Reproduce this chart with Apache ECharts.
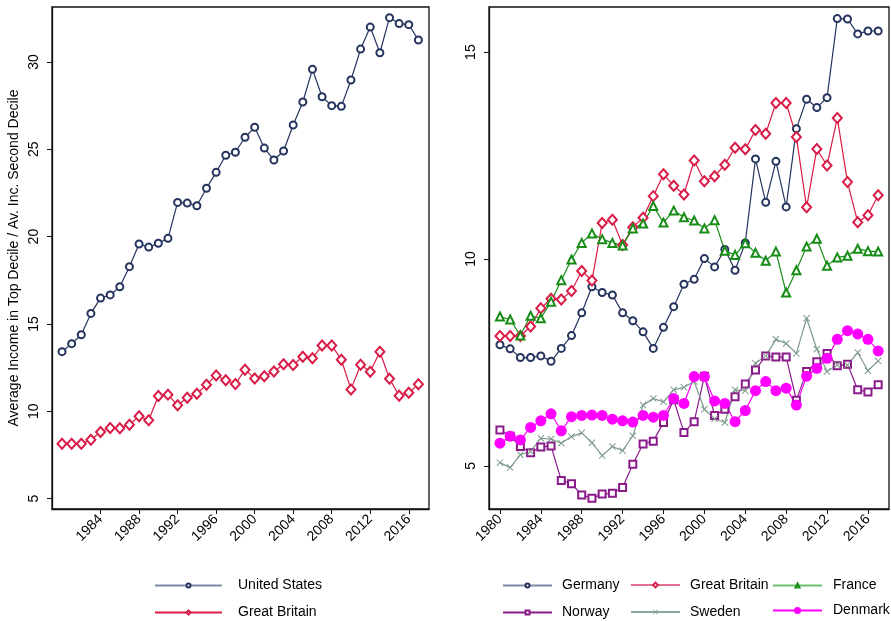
<!DOCTYPE html>
<html>
<head>
<meta charset="utf-8">
<script src="https://cdn.jsdelivr.net/npm/echarts@6/dist/echarts.min.js"></script>
<style>
  html, body { margin: 0; padding: 0; background: #fff; }
  #chart { width: 891px; height: 621px; }
</style>
</head>
<body>
<div id="chart"></div>
<script>
// Ratio of average income in the top decile to the second decile, 1980-2017
const years = [1980, 1981, 1982, 1983, 1984, 1985, 1986, 1987, 1988, 1989,
               1990, 1991, 1992, 1993, 1994, 1995, 1996, 1997, 1998, 1999,
               2000, 2001, 2002, 2003, 2004, 2005, 2006, 2007, 2008, 2009,
               2010, 2011, 2012, 2013, 2014, 2015, 2016, 2017];

const unitedStates = [13.41, 13.87, 14.38, 15.60, 16.48, 16.66, 17.13, 18.28, 19.58, 19.40,
                      19.62, 19.90, 21.96, 21.92, 21.77, 22.77, 23.68, 24.66, 24.83, 25.69,
                      26.26, 25.07, 24.39, 24.90, 26.39, 27.71, 29.58, 28.01, 27.50, 27.46,
                      28.97, 30.74, 32.00, 30.53, 32.54, 32.20, 32.14, 31.26];

const greatBritain = [8.14, 8.14, 8.14, 8.37, 8.81, 9.04, 9.02, 9.23, 9.71, 9.48,
                      10.87, 10.95, 10.34, 10.77, 11.00, 11.52, 12.05, 11.77, 11.56, 12.38,
                      11.88, 12.00, 12.28, 12.69, 12.65, 13.12, 13.03, 13.77, 13.77, 12.95,
                      11.25, 12.66, 12.26, 13.41, 11.86, 10.89, 11.06, 11.54];

const germany = [7.93, 7.83, 7.62, 7.62, 7.66, 7.53, 7.84, 8.15, 8.70, 9.33,
                 9.19, 9.13, 8.70, 8.51, 8.24, 7.84, 8.35, 8.85, 9.39, 9.51,
                 10.01, 9.81, 10.23, 9.73, 10.39, 12.42, 11.37, 12.36, 11.26, 13.15,
                 13.86, 13.66, 13.90, 15.81, 15.80, 15.44, 15.51, 15.51];

const france = [8.61, 8.54, 8.15, 8.63, 8.57, 8.97, 9.49, 9.99, 10.39, 10.62,
                10.48, 10.39, 10.33, 10.74, 10.86, 11.28, 10.88, 11.17, 11.01, 10.93,
                10.74, 10.94, 10.20, 10.10, 10.38, 10.15, 9.96, 10.18, 9.19, 9.73,
                10.30, 10.49, 9.84, 10.04, 10.08, 10.25, 10.19, 10.18];

const norway = [5.87, 5.72, 5.47, 5.32, 5.46, 5.48, 4.65, 4.57, 4.30, 4.22,
                4.32, 4.34, 4.48, 5.04, 5.53, 5.60, 6.05, 6.60, 5.81, 6.07,
                7.17, 6.22, 6.37, 6.67, 6.98, 7.32, 7.66, 7.63, 7.63, 6.59,
                7.28, 7.52, 7.72, 7.42, 7.46, 6.84, 6.79, 6.96];

const sweden = [5.08, 4.96, 5.27, 5.35, 5.67, 5.65, 5.55, 5.71, 5.80, 5.56,
                5.25, 5.47, 5.37, 5.73, 6.47, 6.63, 6.55, 6.84, 6.90, 7.04,
                6.37, 6.14, 6.05, 6.84, 6.82, 7.48, 7.66, 8.06, 7.96, 7.72,
                8.57, 7.82, 7.28, 7.44, 7.44, 7.74, 7.30, 7.54];

const denmark = [5.55, 5.72, 5.63, 5.93, 6.09, 6.26, 5.85, 6.19, 6.22, 6.23,
                 6.22, 6.13, 6.09, 6.06, 6.22, 6.18, 6.22, 6.63, 6.51, 7.16,
                 7.16, 6.57, 6.51, 6.07, 6.34, 6.82, 7.04, 6.82, 6.88, 6.47,
                 7.17, 7.36, 7.60, 8.06, 8.27, 8.19, 8.06, 7.78];

const leftYearTicks = [1984, 1988, 1992, 1996, 2000, 2004, 2008, 2012, 2016];
const rightYearTicks = [1980, 1984, 1988, 1992, 1996, 2000, 2004, 2008, 2012, 2016];
const leftValueTicks = [5, 10, 15, 20, 25, 30];
const rightValueTicks = [5, 10, 15];

const FONT = 'Liberation Sans, Arial, Helvetica, sans-serif';
const C = {
  navy: '#25345e',
  red: '#d81b47',
  green: '#178c17',
  purple: '#8a1a8a',
  sage: '#7d9a8a',
  magenta: '#ff00ff'
};
const crossSymbol = 'path://M0,1L1,0L5,4L9,0L10,1L6,5L10,9L9,10L5,6L1,10L0,9L4,5Z';

const pairs = (vals) => years.map((y, i) => [y, vals[i]]);

function lineSeries(name, vals, color, symbol, size, axis, filled) {
  return {
    name: name,
    type: 'line',
    xAxisIndex: axis,
    yAxisIndex: axis,
    data: pairs(vals),
    symbol: symbol,
    symbolSize: size,
    showAllSymbol: true,
    animation: false,
    lineStyle: { color: color, width: 1.2 },
    itemStyle: filled
      ? { color: color, borderWidth: 0 }
      : { color: color, borderColor: color, borderWidth: 1 },
    emphasis: { disabled: true }
  };
}

function xAxis(grid, min, max, ticks) {
  return {
    gridIndex: grid, type: 'value', min: min, max: max,
    axisLine: { show: true, onZero: false, lineStyle: { color: '#111', width: 1.3 } },
    axisTick: { show: true, customValues: ticks, length: 5, lineStyle: { color: '#111', width: 1 } },
    axisLabel: {
      customValues: ticks, rotate: 45, margin: 8, fontSize: 14, color: '#000', fontFamily: FONT,
      formatter: (v) => String(v)
    },
    splitLine: { show: false }
  };
}

function yAxis(grid, min, max, ticks, extra) {
  return Object.assign({
    gridIndex: grid, type: 'value', min: min, max: max,
    axisLine: { show: true, onZero: false, lineStyle: { color: '#111', width: 1.3 } },
    axisTick: { show: true, customValues: ticks, length: 5, lineStyle: { color: '#111', width: 1 } },
    axisLabel: {
      customValues: ticks, rotate: 90, margin: 11, fontSize: 14, color: '#000', fontFamily: FONT,
      formatter: (v) => String(v)
    },
    splitLine: { show: false }
  }, extra || {});
}

function legendItem(name, left, top, width, pad, lineColor, h) {
  return {
    data: [name], left: left, top: top - h / 2, orient: 'horizontal',
    itemWidth: width, itemHeight: h, padding: 0, selectedMode: false,
    lineStyle: { color: lineColor, width: 2 },
    textStyle: { fontSize: 14, color: '#000', fontFamily: FONT, padding: [0, 0, 0, pad] }
  };
}

const chart = echarts.init(document.getElementById('chart'), null, { renderer: 'canvas' });
chart.setOption({
  backgroundColor: '#fff',
  animation: false,
  grid: [
    { left: 52, top: 7, width: 377, height: 502, show: true, borderColor: '#111', borderWidth: 1.3, backgroundColor: 'transparent' },
    { left: 489, top: 7, width: 400, height: 502, show: true, borderColor: '#111', borderWidth: 1.3, backgroundColor: 'transparent' }
  ],
  xAxis: [
    xAxis(0, 1978.96, 2018.1, leftYearTicks),
    xAxis(1, 1978.93, 2018.06, rightYearTicks)
  ],
  yAxis: [
    yAxis(0, 4.4, 33.15, leftValueTicks, {
      name: 'Average Income in Top Decile / Av. Inc. Second Decile',
      nameLocation: 'middle', nameGap: 31,
      nameTextStyle: { fontSize: 14, color: '#000', fontFamily: FONT }
    }),
    yAxis(1, 3.96, 16.09, rightValueTicks)
  ],
  legend: [
    legendItem('United States', 154, 581, 67, 11, '#7e89a6', 5),
    legendItem('Great Britain', 154, 608, 67, 11, '#d81b47', 5),
    legendItem('Germany', 502, 581, 49, 5, '#7e89a6', 5),
    legendItem('Great Britain', 630, 581, 49, 5, '#e07090', 6),
    legendItem('France', 772, 581, 49, 6, '#6cbf6c', 5),
    legendItem('Norway', 502, 608, 49, 5, '#8a1a8a', 5),
    legendItem('Sweden', 630, 608, 49, 5, '#88a898', 6),
    legendItem('Denmark', 772, 608, 49, 6, '#ff00ff', 9)
  ],
  series: [
    lineSeries('United States', unitedStates, C.navy, 'emptyCircle', 7, 0),
    lineSeries('Great Britain', greatBritain, C.red, 'emptyDiamond', [9, 10], 0),
    lineSeries('Germany', germany, C.navy, 'emptyCircle', 7, 1),
    lineSeries('Great Britain', greatBritain, C.red, 'emptyDiamond', [9, 10], 1),
    lineSeries('France', france, C.green, 'emptyTriangle', 8, 1),
    lineSeries('Norway', norway, C.purple, 'emptyRect', 7, 1),
    lineSeries('Sweden', sweden, C.sage, crossSymbol, 7, 1, true),
    lineSeries('Denmark', denmark, C.magenta, 'circle', 11, 1, true)
  ]
});
</script>
</body>
</html>
